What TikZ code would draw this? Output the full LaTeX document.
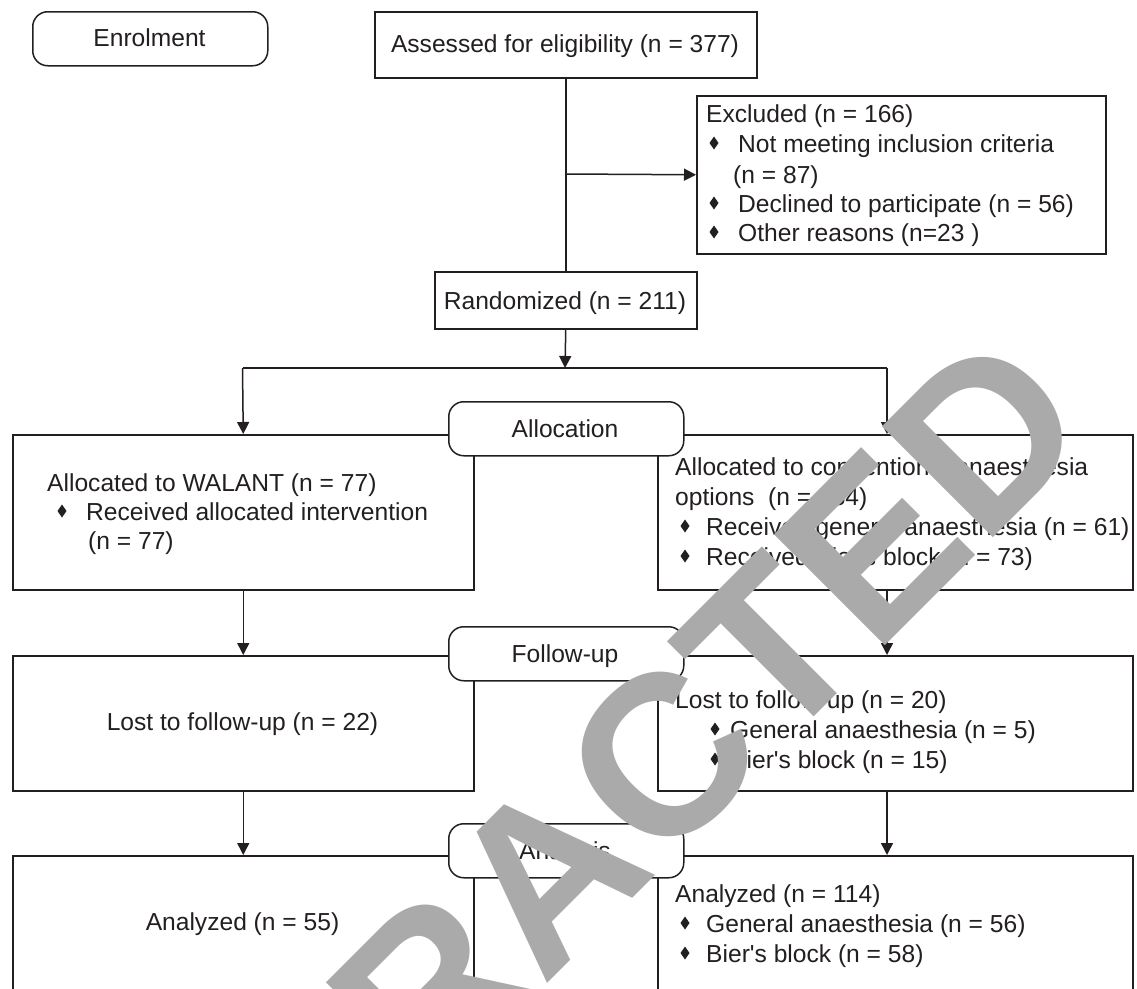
\documentclass[tikz,border=0pt]{standalone}
\usepackage{fontspec}
\setmainfont{Liberation Sans}[Ligatures=TeXOff]
\newfontfamily\wmfont{Liberation Sans}
\usetikzlibrary{arrows.meta,calc}
\definecolor{ink}{HTML}{231F20}
\definecolor{wmgray}{RGB}{170,170,170}
\tikzset{
  box/.style={draw=ink, line width=1.5pt, fill=white, inner sep=0pt, anchor=north west},
  lbl/.style={box, rounded corners=15pt, minimum width=235pt, minimum height=54pt},
  conn/.style={draw=ink, line width=1.5pt},
  arr/.style={conn, -{Triangle[width=12pt,length=12pt]}},
  txt/.style={inner sep=0pt, anchor=base west, text=ink, font=\fontsize{24.6}{30}\selectfont},
  ctxt/.style={txt, anchor=base},
}
\newcommand{\dia}[2]{\fill[ink] (#1,#2-6.5) -- (#1+4.5,#2) -- (#1,#2+6.5) -- (#1-4.5,#2) -- cycle;}
\begin{document}
\begin{tikzpicture}[x=1pt,y=-1pt]
\useasboundingbox (0,0) rectangle (1137,988);
\clip (0,0) rectangle (1137,988);
\fill[white] (0,0) rectangle (1137,988);

% boxes
\node[box, minimum width=382pt, minimum height=66pt] (assess) at (374,11) {};
\node[box, minimum width=409pt, minimum height=158pt] (excl) at (696,95) {};
\node[box, minimum width=262pt, minimum height=57pt] (rand) at (434,271) {};
\node[box, minimum width=461pt, minimum height=155pt] (L1) at (12,434) {};
\node[box, minimum width=475pt, minimum height=155pt] (R1) at (657,434) {};
\node[box, minimum width=461pt, minimum height=135pt] (L2) at (12,655) {};
\node[box, minimum width=475pt, minimum height=135pt] (R2) at (657,655) {};
\node[box, minimum width=461pt, minimum height=170pt] (L3) at (12,855) {};
\node[box, minimum width=475pt, minimum height=170pt] (R3) at (657,855) {};

% connectors
\draw[conn] (assess.south) -- (rand.north);
\coordinate (exq) at (565,174);
\draw[arr] (exq) -- (excl.west);
\coordinate (split) at (565,368);
\coordinate (lsp) at (242.5,368);
\coordinate (rsp) at (887,368);
\draw[arr] (rand.south) -- (split);
\draw[conn] (lsp) -- (rsp);
\draw[arr] (lsp) -- (L1.north);
\draw[arr] (rsp) -- (rsp |- R1.north);
\draw[arr] (L1.south) -- (L2.north);
\draw[arr] (L2.south) -- (L3.north);
\draw[arr] (rsp |- R1.south) -- (rsp |- R2.north);
\draw[arr] (rsp |- R2.south) -- (rsp |- R3.north);

% stage labels
\node[lbl] (enrol) at (32,11) {};
\node[lbl] (alloc) at (448,401) {};
\node[lbl] (follow) at (448,626) {};
\node[lbl] (analysis) at (448,823) {};

% texts
\node[ctxt] (tenrol) at (149.5,46) {Enrolment};
\node[ctxt] (tassess) at (565,52) {Assessed for eligibility (n = 377)};
\node[txt] (te1) at (706,122) {Excluded (n = 166)};
\node[txt] (te2) at (738,152) {Not meeting inclusion criteria};
\node[txt] (te3) at (733,183) {(n = 87)};
\node[txt] (te4) at (738,212) {Declined to participate (n = 56)};
\node[txt] (te5) at (738,241) {Other reasons (n=23 )};
\dia{714}{143}\dia{714}{203}\dia{714}{232}
\node[ctxt] (trand) at (565,309) {Randomized (n = 211)};

\node[ctxt] (talloc) at (565,437) {Allocation};
\node[ctxt] (tfollow) at (565,662) {Follow-up};
\node[ctxt] (tanalysis) at (565,859) {Analysis};

\node[txt] (tl1a) at (47,491) {Allocated to WALANT (n = 77)};
\node[txt] (tl1b) at (86,520) {Received allocated intervention};
\node[txt] (tl1c) at (88,549) {(n = 77)};
\dia{62}{511}

\node[txt] (tr1a) at (675,475) {Allocated to conventional anaesthesia};
\node[txt] (tr1b) at (675,505) {options\ \ (n = 134)};
\node[txt] (tr1c) at (706,535) {Received general anaesthesia (n = 61)};
\node[txt] (tr1d) at (706,565) {Received Bier's block (n = 73)};
\dia{685}{526}\dia{685}{556}

\node[ctxt] (tl2) at (242.5,730) {Lost to follow-up (n = 22)};
\node[txt] (tr2a) at (675,708) {Lost to follow-up (n = 20)};
\node[txt] (tr2b) at (730,738) {General anaesthesia (n = 5)};
\node[txt] (tr2c) at (730,768) {Bier's block (n = 15)};
\dia{715}{729}\dia{715}{759}

\node[ctxt] (tl3) at (242.5,930) {Analyzed (n = 55)};
\node[txt] (tr3a) at (675,902) {Analyzed (n = 114)};
\node[txt] (tr3b) at (706,932) {General anaesthesia (n = 56)};
\node[txt] (tr3c) at (706,962) {Bier's block (n = 58)};
\dia{685}{923}\dia{685}{953}

% watermark
\node[inner sep=0pt, rotate=45, text=wmgray, font=\wmfont\bfseries\fontsize{228}{228}\selectfont] (wm) at (546,874) {RETRACTED};
\end{tikzpicture}
\end{document}
